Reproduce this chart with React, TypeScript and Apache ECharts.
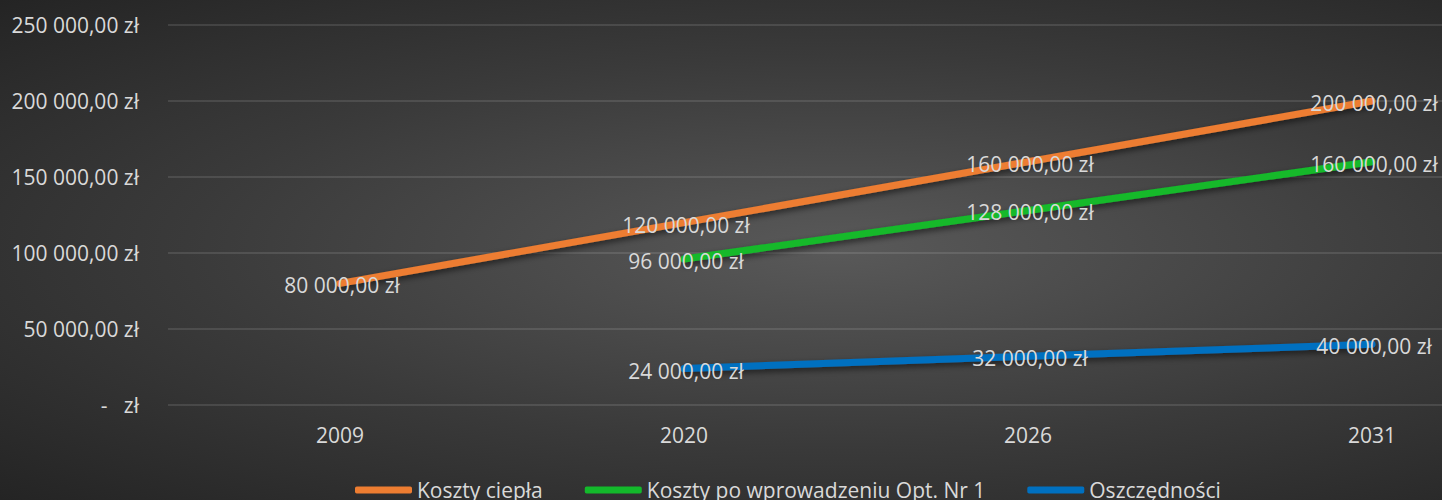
import React, { useEffect, useRef } from "react";
import * as echarts from "echarts";

const years = ["2009", "2020", "2026", "2031"];
const kosztyCiepla = [80000, 120000, 160000, 200000];
const kosztyPoOpt = [null, 96000, 128000, 160000];
const oszczednosci = [null, 24000, 32000, 40000];
const seriesNames = ["Koszty ciepła", "Koszty po wprowadzeniu Opt. Nr 1", "Oszczędności"];
const seriesColors = ["#ED7D31", "#13B92B", "#0070C0"];

const FONT = "Open Sans";
const TEXT = "#d9d9d9";
const FS = 21;

function fmt(v: number): string {
  if (v === 0) return "-   zł";
  const [i, d] = v.toFixed(2).split(".");
  const withSep = i.replace(/\B(?=(\d{3})+(?!\d))/g, " ");
  return `${withSep},${d} zł`;
}

export default function App() {
  const ref = useRef<HTMLDivElement>(null);
  useEffect(() => {
    if (!ref.current) return;
    const chart = echarts.init(ref.current, undefined, { renderer: "svg" });
    const datas = [kosztyCiepla, kosztyPoOpt, oszczednosci];
    chart.setOption({
      animation: false,
      backgroundColor: "transparent",
      textStyle: { fontFamily: FONT },
      grid: {
        left: 168,
        width: 1376,
        top: 25,
        height: 380,
        containLabel: false,
        outerBoundsMode: "none",
      },
      legend: {
        left: 350,
        top: 472,
        icon: "roundRect",
        itemWidth: 57,
        itemHeight: 7,
        itemGap: 42,
        textStyle: { color: TEXT, fontSize: FS, fontFamily: FONT, lineHeight: 26 },
        data: seriesNames,
      },
      xAxis: {
        type: "category",
        data: years,
        boundaryGap: true,
        axisLine: { show: false },
        axisTick: { show: false },
        axisLabel: { color: TEXT, fontSize: FS, fontFamily: FONT, margin: 19 },
      },
      yAxis: {
        type: "value",
        min: 0,
        max: 250000,
        interval: 50000,
        axisLine: { show: false },
        axisTick: { show: false },
        axisLabel: {
          color: TEXT,
          fontSize: FS,
          fontFamily: FONT,
          margin: 29,
          formatter: (v: number) => fmt(v),
        },
        splitLine: { lineStyle: { color: "rgba(255,255,255,0.11)", width: 2 } },
      },
      series: datas.map((d, idx) => ({
        name: seriesNames[idx],
        type: "line",
        data: d,
        color: seriesColors[idx],
        symbol: "circle",
        symbolSize: 0,
        showSymbol: true,
        lineStyle: {
          color: seriesColors[idx],
          width: 7,
          cap: "round",
          shadowColor: "rgba(0,0,0,0.55)",
          shadowBlur: 6,
          shadowOffsetY: 3,
        },
        label: {
          show: true,
          position: "inside",
          offset: [2, 2],
          color: TEXT,
          fontSize: FS,
          fontFamily: FONT,
          formatter: (p: any) => fmt(p.value),
        },
        z: 3 - idx,
      })),
    });
    return () => chart.dispose();
  }, []);
  return (
    <div
      ref={ref}
      style={{
        position: "absolute",
        left: 0,
        top: 0,
        width: 1442,
        height: 500,
        background: "radial-gradient(ellipse farthest-corner at 58% 50%, #595959 0%, #3a3a3a 55%, #242424 100%)",
      }}
    />
  );
}
